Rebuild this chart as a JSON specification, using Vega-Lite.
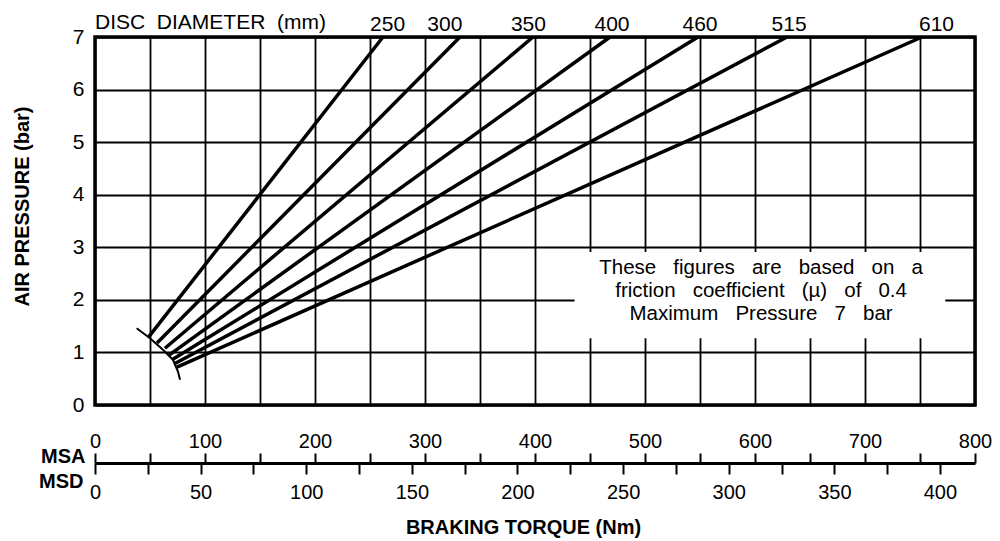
{
  "$schema": "https://vega.github.io/schema/vega-lite/v6.json",
  "width": 880,
  "height": 368,
  "autosize": "none",
  "padding": {"left": 95, "top": 37, "right": 25, "bottom": 136},
  "background": "white",
  "config": {
    "font": "Liberation Sans",
    "view": {"stroke": "black", "strokeWidth": 3.5}
  },
  "datasets": {
    "curves": [
      {"disc": "250", "torque_msa": 49, "pressure": 1.30},
      {"disc": "250", "torque_msa": 261.8, "pressure": 7},
      {"disc": "300", "torque_msa": 56.4, "pressure": 1.18},
      {"disc": "300", "torque_msa": 331.8, "pressure": 7},
      {"disc": "350", "torque_msa": 63.6, "pressure": 1.08},
      {"disc": "350", "torque_msa": 398.2, "pressure": 7},
      {"disc": "400", "torque_msa": 67.3, "pressure": 0.95},
      {"disc": "400", "torque_msa": 468.2, "pressure": 7},
      {"disc": "460", "torque_msa": 70, "pressure": 0.86},
      {"disc": "460", "torque_msa": 548.2, "pressure": 7},
      {"disc": "515", "torque_msa": 71.8, "pressure": 0.78},
      {"disc": "515", "torque_msa": 629.1, "pressure": 7},
      {"disc": "610", "torque_msa": 74.5, "pressure": 0.72},
      {"disc": "610", "torque_msa": 751.8, "pressure": 7}
    ],
    "arc": [
      {"torque_msa": 37.9, "pressure": 1.46},
      {"torque_msa": 50, "pressure": 1.27},
      {"torque_msa": 61.8, "pressure": 1.05},
      {"torque_msa": 70.9, "pressure": 0.86},
      {"torque_msa": 75.5, "pressure": 0.63},
      {"torque_msa": 77.3, "pressure": 0.48}
    ],
    "labels": [
      {"disc": "250", "at": 266, "pressure": 7},
      {"disc": "300", "at": 318, "pressure": 7},
      {"disc": "350", "at": 394, "pressure": 7},
      {"disc": "400", "at": 470, "pressure": 7},
      {"disc": "460", "at": 550, "pressure": 7},
      {"disc": "515", "at": 631, "pressure": 7},
      {"disc": "610", "at": 765, "pressure": 7}
    ],
    "header": [
      {"text": "DISC\u00a0\u00a0DIAMETER\u00a0\u00a0(mm)", "at": 0, "pressure": 7}
    ],
    "note": [
      {
        "note": "These\u00a0\u00a0\u00a0figures\u00a0\u00a0\u00a0are\u00a0\u00a0\u00a0based\u00a0\u00a0\u00a0on\u00a0\u00a0\u00a0a\nfriction\u00a0\u00a0\u00a0coefficient\u00a0\u00a0\u00a0(\u00b5)\u00a0\u00a0\u00a0of\u00a0\u00a0\u00a00.4\nMaximum\u00a0\u00a0\u00a0Pressure\u00a0\u00a0\u00a07\u00a0\u00a0\u00a0bar",
        "x1": 436, "x2": 773, "p1": 1.27, "p2": 2.91, "xc": 605.5, "pc": 2.61
      }
    ],
    "msd": [{"msd": 0}, {"msd": 400}]
  },
  "layer": [
    {
      "layer": [
        {
          "data": {"name": "curves"},
          "mark": {"type": "line", "stroke": "black", "strokeWidth": 3.5},
          "encoding": {
            "x": {
              "field": "torque_msa",
              "type": "quantitative",
              "scale": {"domain": [0, 800], "nice": false, "zero": false},
              "axis": {
                "orient": "top",
                "offset": -426,
                "values": [0, 50, 100, 150, 200, 250, 300, 350, 400, 450, 500, 550, 600, 650, 700, 750, 800],
                "labelExpr": "datum.value % 100 === 0 ? datum.label : ''",
                "title": "MSA",
                "titleX": -10,
                "titleY": -7,
                "titleAlign": "right",
                "titleBaseline": "middle",
                "titleAngle": 0,
                "titleFontSize": 20,
                "titleFontWeight": "bold",
                "titleColor": "black",
                "grid": true,
                "gridColor": "black",
                "gridWidth": 1.8,
                "gridOpacity": 1,
                "domain": true,
                "domainColor": "black",
                "domainWidth": 3,
                "ticks": true,
                "tickSize": 10,
                "tickWidth": 2,
                "tickColor": "black",
                "labelFontSize": 20,
                "labelColor": "black",
                "labelPadding": 2,
                "labelFlush": false,
                "labelOverlap": false,
                "labelBound": false
              }
            },
            "y": {
              "field": "pressure",
              "type": "quantitative",
              "scale": {"domain": [0, 7], "nice": false},
              "axis": {
                "values": [0, 1, 2, 3, 4, 5, 6, 7],
                "format": "d",
                "title": "AIR PRESSURE (bar)",
                "titleFontSize": 20,
                "titleFontWeight": "bold",
                "titleColor": "black",
                "titleX": -73,
                "titleY": 169,
                "titleAlign": "center",
                "titleBaseline": "middle",
                "grid": true,
                "gridColor": "black",
                "gridWidth": 1.8,
                "gridOpacity": 1,
                "domain": false,
                "ticks": false,
                "labelFontSize": 21,
                "labelColor": "black",
                "labelPadding": 11
              }
            },
            "detail": {"field": "disc", "type": "nominal"}
          }
        },
        {
          "data": {"name": "arc"},
          "mark": {"type": "line", "stroke": "black", "strokeWidth": 2},
          "encoding": {
            "x": {"field": "torque_msa", "type": "quantitative"},
            "y": {"field": "pressure", "type": "quantitative"}
          }
        },
        {
          "data": {"name": "labels"},
          "mark": {"type": "text", "fontSize": 21, "baseline": "alphabetic", "align": "center", "dy": -6, "color": "black"},
          "encoding": {
            "x": {"field": "at", "type": "quantitative"},
            "y": {"field": "pressure", "type": "quantitative"},
            "text": {"field": "disc"}
          }
        },
        {
          "data": {"name": "header"},
          "mark": {"type": "text", "fontSize": 21, "baseline": "alphabetic", "align": "left", "dy": -8, "color": "black"},
          "encoding": {
            "x": {"field": "at", "type": "quantitative"},
            "y": {"field": "pressure", "type": "quantitative"},
            "text": {"field": "text"}
          }
        },
        {
          "data": {"name": "note"},
          "mark": {"type": "rect", "fill": "white", "stroke": null},
          "encoding": {
            "x": {"field": "x1", "type": "quantitative"},
            "x2": {"field": "x2"},
            "y": {"field": "p1", "type": "quantitative"},
            "y2": {"field": "p2"}
          }
        },
        {
          "data": {"name": "note"},
          "mark": {"type": "text", "fontSize": 20.5, "lineBreak": "\n", "lineHeight": 23, "align": "center", "baseline": "middle", "color": "black"},
          "encoding": {
            "x": {"field": "xc", "type": "quantitative"},
            "y": {"field": "pc", "type": "quantitative"},
            "text": {"field": "note"}
          }
        }
      ]
    },
    {
      "data": {"name": "msd"},
      "mark": {"type": "point", "opacity": 0},
      "encoding": {
        "x": {
          "field": "msd",
          "type": "quantitative",
          "scale": {"domain": [0, 416.6], "nice": false, "zero": false},
          "axis": {
            "orient": "bottom",
            "offset": 58,
            "values": [0, 25, 50, 75, 100, 125, 150, 175, 200, 225, 250, 275, 300, 325, 350, 375, 400],
            "labelExpr": "datum.value % 50 === 0 ? datum.label : ''",
            "title": "MSD",
            "titleX": -12,
            "titleY": 18,
            "titleAlign": "right",
            "titleBaseline": "middle",
            "titleAngle": 0,
            "titleFontSize": 20,
            "titleFontWeight": "bold",
            "titleColor": "black",
            "grid": false,
            "domain": false,
            "ticks": true,
            "tickSize": 11,
            "tickWidth": 2,
            "tickColor": "black",
            "labelFontSize": 20,
            "labelColor": "black",
            "labelPadding": 8,
            "labelFlush": false,
            "labelOverlap": false,
            "labelBound": false
          }
        }
      }
    },
    {
      "data": {"name": "msd"},
      "mark": {"type": "point", "opacity": 0},
      "encoding": {
        "x": {
          "field": "msd",
          "type": "quantitative",
          "scale": {"domain": [0, 416.6], "nice": false, "zero": false},
          "axis": {
            "orient": "bottom",
            "offset": 58,
            "domain": false,
            "ticks": false,
            "labels": false,
            "grid": false,
            "title": "BRAKING TORQUE (Nm)",
            "titleX": 428,
            "titleY": 64,
            "titleAlign": "center",
            "titleBaseline": "middle",
            "titleFontSize": 20,
            "titleFontWeight": "bold",
            "titleColor": "black"
          }
        }
      }
    }
  ],
  "resolve": {"scale": {"x": "independent"}, "axis": {"x": "independent"}}
}
